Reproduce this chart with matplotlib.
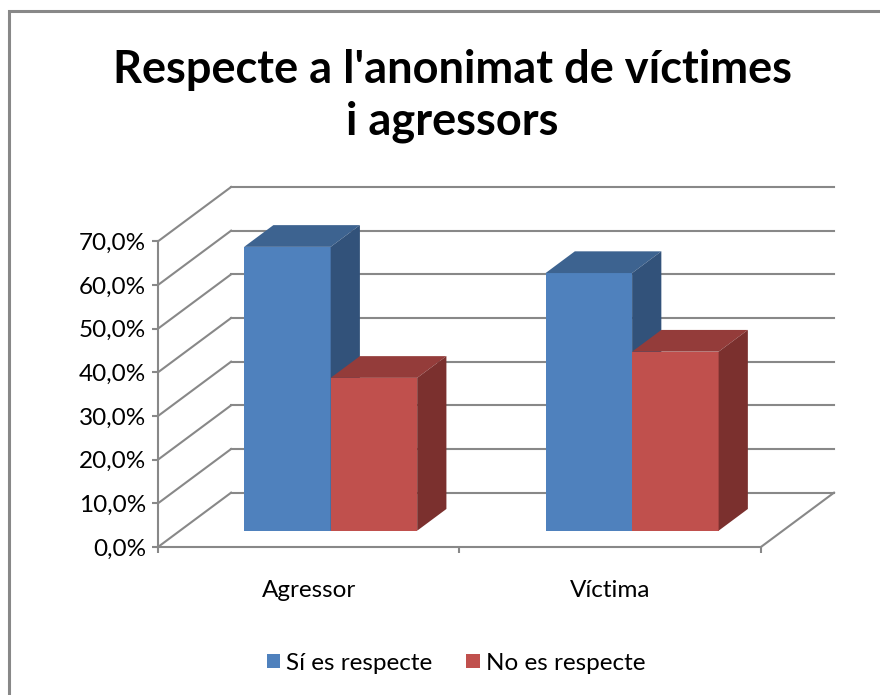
import numpy as np
import matplotlib
matplotlib.use("Agg")
from matplotlib import pyplot as plt
from matplotlib.patches import Polygon, Rectangle, Patch

plt.rcParams['font.family'] = ['Lato', 'DejaVu Sans']

# data
categories = ['Agressor', 'Víctima']
series_names = ['Sí es respecte', 'No es respecte']
si_values = [65.0, 59.0]
no_values = [35.0, 41.0]
y_ticks = [0, 10, 20, 30, 40, 50, 60, 70]
title = "Respecte a l'anonimat de víctimes\ni agressors"

# styling
front_cols = ['#4F81BD', '#C0504D']
top_cols = ['#3D6390', '#943C3A']
side_cols = ['#32527A', '#7B302E']
grid_col = '#888888'

# fake 3d depth offsets (in data units)
DX = 0.2425   # category units
DY = 12.44    # percent units
bar_w = 0.287
d0, d1 = 0.3, 0.7   # bar depth range inside the floor


def proj(x, v, d):
    return x + d * DX, v + d * DY


fig = plt.figure(figsize=(8.8, 6.95), dpi=100)
ax = fig.add_axes([158 / 880, (695 - 547) / 695, 676 / 880, 360 / 695])
ax.set_xlim(-0.5, 1.5 + DX)
ax.set_ylim(0, 70 + DY)
ax.patch.set_alpha(0)

# walls and floor
for v in y_ticks:
    bx, by = proj(-0.5, v, 1)
    ax.plot([-0.5, bx], [v, by], color=grid_col, lw=1.5, zorder=1, clip_on=False)
    ex, ey = proj(1.5, v, 1)
    ax.plot([bx, ex], [by, ey], color=grid_col, lw=1.5, zorder=1, clip_on=False)
fx, fy = proj(1.5, 0, 1)
ax.plot([1.5, fx], [0, fy], color=grid_col, lw=1.5, zorder=1, clip_on=False)

# bars
series = [si_values, no_values]
for i in range(len(categories)):
    for s, vals in enumerate(series):
        x0 = i - bar_w + s * bar_w
        x1 = x0 + bar_w
        h = vals[i]
        fl = proj(x0, 0, d0)
        fr = proj(x1, 0, d0)
        tl = proj(x0, h, d0)
        tr = proj(x1, h, d0)
        btl = proj(x0, h, d1)
        btr = proj(x1, h, d1)
        bbr = proj(x1, 0, d1)
        z = 3 + i * 3 + s
        ax.add_patch(Polygon([fl, fr, tr, tl], closed=True, fc=front_cols[s],
                             ec='none', zorder=z))
        ax.add_patch(Polygon([tl, tr, btr, btl], closed=True, fc=top_cols[s],
                             ec='none', zorder=z))
        ax.add_patch(Polygon([fr, bbr, btr, tr], closed=True, fc=side_cols[s],
                             ec='none', zorder=z))

# axes
for sp in ['top', 'right']:
    ax.spines[sp].set_visible(False)
ax.spines['left'].set_bounds(0, 70)
ax.spines['bottom'].set_bounds(-0.5, 1.5)
for sp in ['left', 'bottom']:
    ax.spines[sp].set_color(grid_col)
    ax.spines[sp].set_linewidth(1.5)
ax.set_yticks(y_ticks)
ax.set_yticklabels([('%.1f%%' % v).replace('.', ',') for v in y_ticks])
ax.set_xticks([-0.5, 0.5, 1.5])
ax.set_xticklabels([])
ax.set_xticks([0, 1], minor=True)
ax.set_xticklabels(categories, minor=True)
ax.tick_params(axis='both', which='major', direction='out', length=4.5, width=1.5,
               color=grid_col, labelsize=17.5, pad=4)
ax.tick_params(axis='x', which='minor', length=0, labelsize=17.5, pad=24)

# title
fig.text(452 / 880, 1 - 96 / 695, title, ha='center', va='center', fontsize=32.5,
         fontweight='bold', linespacing=1.27)

# legend
handles = [Patch(fc=front_cols[0], ec='none'), Patch(fc=front_cols[1], ec='none')]
fig.legend(handles, series_names, loc='center', bbox_to_anchor=(456 / 880, 1 - 663 / 695),
           ncol=2, frameon=False, fontsize=17.5, handlelength=0.55, handleheight=0.55,
           handletextpad=0.25, columnspacing=1.4)

# chart frame
fig.patches.append(Rectangle((9 / 880, -0.1), 1.1, 1 - 11 / 695 + 0.1,
                             transform=fig.transFigure, fill=False,
                             ec='#888888', lw=2.2))

fig.savefig('out.png', dpi=100)
